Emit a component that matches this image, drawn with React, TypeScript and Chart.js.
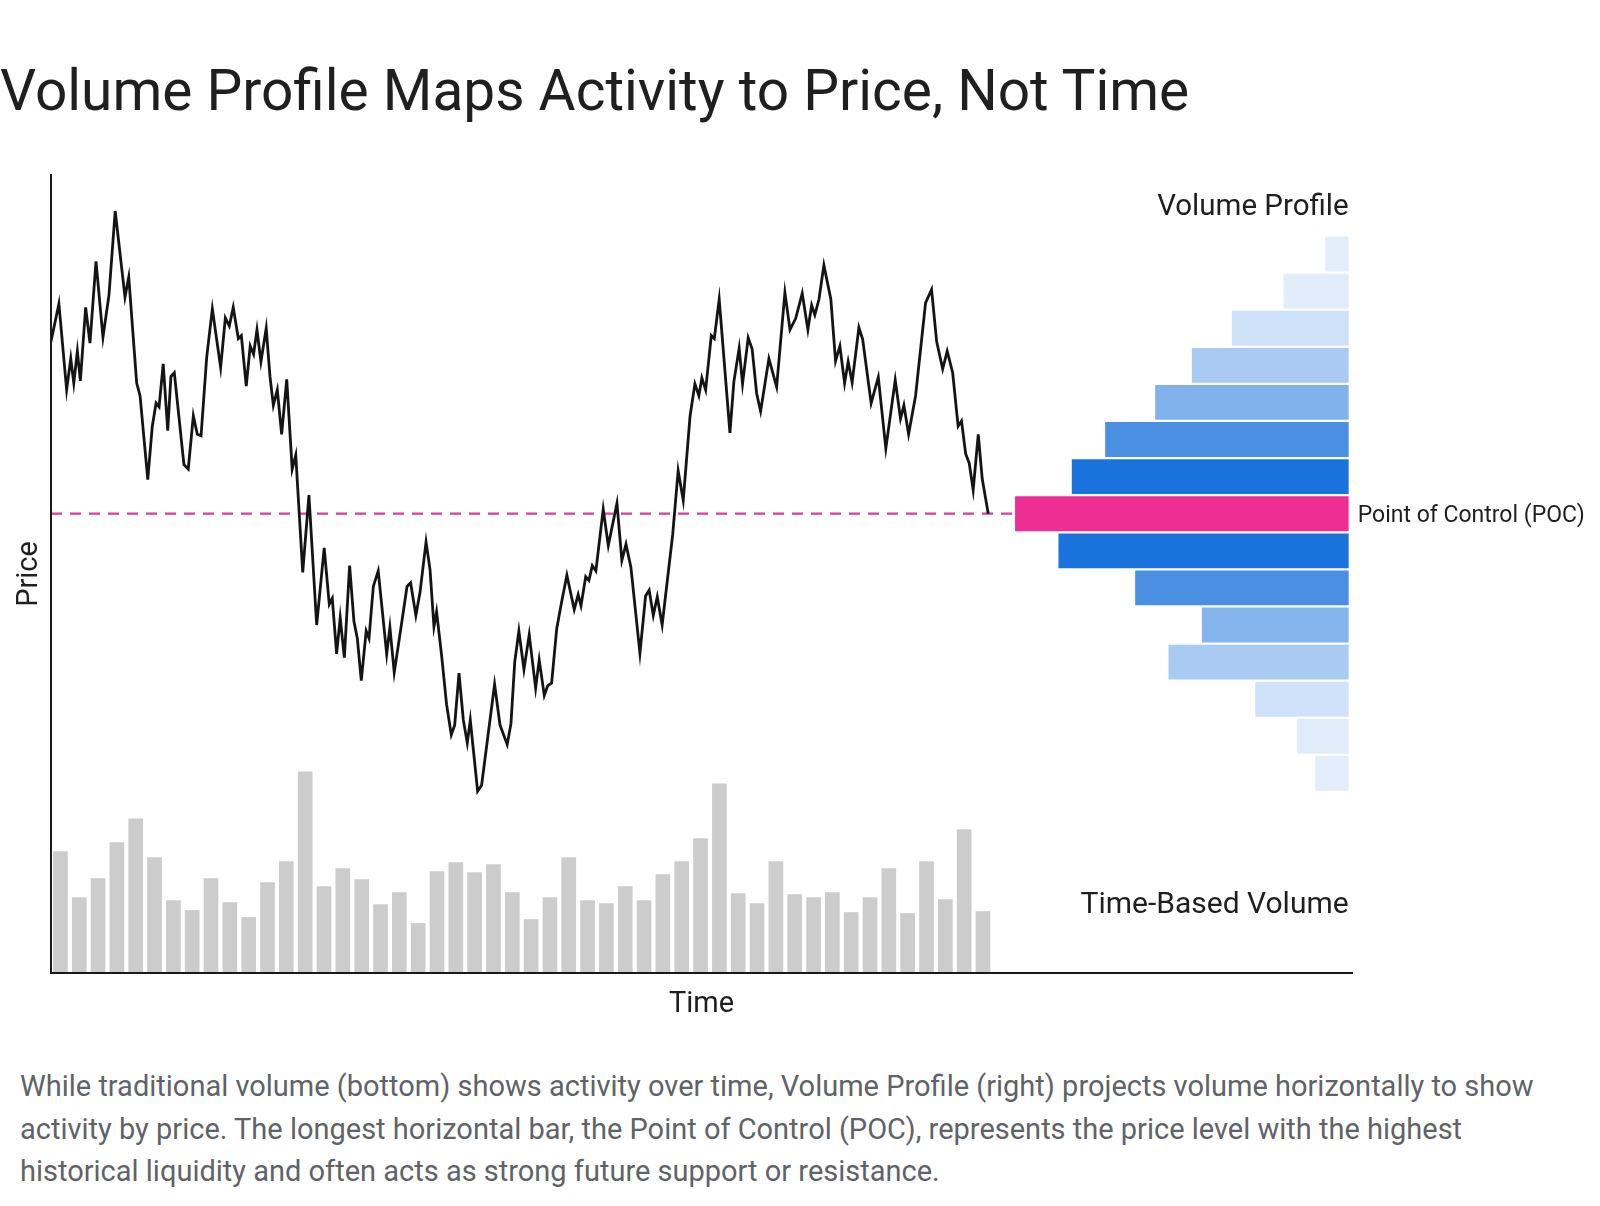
import React, { useEffect, useRef } from 'react';
import { Chart, registerables } from 'chart.js';

Chart.register(...registerables);

const FONT = 'Roboto, "Noto Sans", "DejaVu Sans", sans-serif';
const INK = '#1f1f1f';

// Price path: time (measured in volume periods) and price at each vertex
const priceTimes = [
  0, 0.42, 0.83, 1.05, 1.21, 1.4, 1.56, 1.84, 2.07, 2.39, 2.76, 3.08, 3.41, 3.93, 4.13, 4.55, 4.73, 5.14, 5.38, 5.58,
  5.74, 5.96, 6.2, 6.37, 6.55, 7.06, 7.29, 7.56, 7.77, 7.97, 8.27, 8.57, 9.01, 9.26, 9.47, 9.68, 9.95, 10.11, 10.37, 10.58,
  10.76, 10.94, 11.15, 11.43, 11.63, 11.81, 12.02, 12.25, 12.52,
  12.81, 13.0, 13.37, 13.7, 14.11, 14.51, 14.78, 14.94, 15.17, 15.36, 15.58, 15.86, 16.09, 16.27, 16.48, 16.74, 16.89, 17.12, 17.38, 17.83,
  18.0, 18.23, 18.62, 18.91, 19.1, 19.38, 19.6, 19.92, 20.13, 20.34, 20.48, 20.75, 21.01, 21.26, 21.44, 21.67, 21.9, 22.11, 22.27, 22.66,
  22.87, 23.56, 23.85, 24.23, 24.43, 24.63, 24.85, 25.12, 25.4,
  25.74, 25.93, 26.2, 26.38, 26.59, 26.86, 27.12, 27.4, 27.79, 28.0, 28.15, 28.4, 28.57, 28.75, 28.94, 29.33, 29.6, 30.06, 30.32, 30.54,
  30.8, 31.28, 31.58, 31.77, 31.99, 32.2, 32.46, 33.02, 33.31, 33.58, 33.94, 34.2, 34.41, 34.57, 34.77, 35.07, 35.23, 35.49, 36.06, 36.27,
  36.55, 36.73, 37.03, 37.24, 37.48, 37.69,
  38.13, 38.54, 38.98, 39.25, 39.55, 39.9, 40.2, 40.4, 40.57, 40.79, 41.05, 41.42, 41.67, 41.9, 42.15, 42.34, 42.55, 42.91, 43.11, 43.56,
  43.94, 44.34, 44.84, 45.12, 45.3, 45.55, 45.92, 46.45, 46.77, 47.04, 47.36, 47.6, 47.89, 48.18, 48.36, 48.58, 48.77, 48.98, 49.25, 49.46,
  49.78,
];
const priceValues = [
  173.2, 178.3, 166.7, 170.9, 167.6, 171.9, 167.9, 177.8, 173.0, 184.0, 173.8, 179.5, 190.8, 179.2, 181.9, 167.6, 165.9, 154.6, 161.8, 164.9,
  164.4, 170.2, 161.2, 168.5, 169.0, 156.6, 156.0, 163.2, 160.7, 160.5, 171.1, 177.6, 169.7, 176.4, 175.3, 177.8, 173.6, 174.0, 167.2, 172.6,
  171.5, 174.8, 170.5, 175.0, 168.5, 164.6, 166.7, 160.7, 168.1,
  156.0, 157.9, 142.1, 152.5, 135.0, 145.4, 137.8, 138.6, 131.1, 136.0, 130.6, 143.0, 135.5, 133.2, 127.5, 134.2, 133.2, 140.2, 142.3, 131.1,
  134.7, 128.6, 135.2, 140.2, 140.7, 136.3, 139.4, 146.2, 142.5, 134.8, 136.8, 130.8, 124.3, 120.2, 121.5, 128.5, 122.2, 119.1, 122.2, 112.6,
  113.4, 127.0, 121.5, 118.9, 121.7, 130.0, 134.2, 129.0, 133.7,
  126.5, 130.3, 125.5, 126.8, 127.2, 134.5, 138.1, 141.7, 137.1, 139.1, 137.6, 141.5, 141.0, 143.0, 142.3, 150.6, 145.7, 151.4, 143.7, 145.9,
  142.8, 131.2, 138.9, 139.7, 136.3, 138.8, 135.0, 147.2, 155.8, 151.8, 163.1, 167.5, 165.9, 168.3, 166.7, 174.0, 173.6, 178.9, 160.9, 167.8,
  172.3, 167.5, 173.7, 172.2, 166.2, 163.8,
  170.9, 167.1, 179.8, 174.8, 176.3, 179.7, 174.8, 178.1, 176.8, 178.9, 183.5, 178.9, 170.6, 172.6, 167.6, 170.5, 167.7, 175.1, 173.5, 164.9,
  168.4, 158.8, 168.0, 162.8, 164.6, 160.7, 165.9, 178.4, 180.2, 173.2, 169.5, 171.9, 169.0, 161.8, 162.5, 158.1, 156.8, 153.2, 160.7, 154.7,
  150.0,
];

// Time-based volume, one bar per period
const volumePerPeriod = [
  122, 76, 95, 131, 155, 116, 73, 63, 95, 71,
  56, 91, 112, 202, 87, 105, 94, 69, 81, 50,
  102, 111, 101, 109, 81, 54, 76, 116, 73, 70,
  87, 73, 99, 112, 135, 190, 80, 70, 112, 79,
  76, 81, 61, 76, 105, 60, 112, 74, 144, 62,
];

// Volume profile: centre of each price bin, volume traded in it, bin colour
const profileLevels = [185, 180, 175, 170, 165, 160, 155, 150, 145, 140, 135, 130, 125, 120, 115];
const profileVolume = [7, 19.5, 35, 47, 58, 73, 83, 100, 87, 64, 44, 54, 28, 15.5, 10];
const profileColors = [
  '#e3eefc', '#e1edfb', '#cde1f9', '#a9caf3', '#82b2eb', '#4b8fe2', '#1a73dd',
  '#ee2e93',
  '#1a73dd', '#4b8fe2', '#85b5ec', '#a9caf3', '#cfe2fa', '#e2edfc', '#e3eefc',
];

const pocPrice = 150;
const pocLineSpan = [0, 60];

const priceRange = { min: 88.1, max: 195.65 };
const timeRange = { min: 0, max: 69.1 };
const volumeRange = { min: 0, max: 800 };
const profileRange = { min: -1, max: 389 };

// canvas 'middle' sits a little above the optical centre of the glyphs
const MID_NUDGE = 3;

const labelPlugin = {
  id: 'profileLabels',
  afterDatasetsDraw(chart: any) {
    const { ctx, chartArea, scales } = chart;
    const right = scales.xProf.getPixelForValue(0);
    const binHalf = (profileLevels[0] - profileLevels[1]) / 2;
    const profileTop = scales.y.getPixelForValue(profileLevels[0] + binHalf);
    ctx.save();
    ctx.fillStyle = INK;
    ctx.textBaseline = 'middle';
    ctx.textAlign = 'right';
    ctx.font = `29.5px ${FONT}`;
    ctx.fillText('Volume Profile', right, profileTop - 31 + MID_NUDGE);
    ctx.font = `30px ${FONT}`;
    ctx.fillText('Time-Based Volume', right, chartArea.bottom - 71 + MID_NUDGE);
    ctx.textAlign = 'left';
    ctx.font = `23px ${FONT}`;
    ctx.fillText('Point of Control (POC)', right + 9, scales.y.getPixelForValue(pocPrice) + MID_NUDGE);
    ctx.restore();
  },
};

function VolumeProfileChart() {
  const ref = useRef<HTMLCanvasElement>(null);

  useEffect(() => {
    const canvas = ref.current;
    if (!canvas) return;
    let chart: Chart | null = null;
    let cancelled = false;

    const build = () => {
      if (cancelled) return;
      chart = new Chart(canvas, {
        type: 'bar',
        data: {
          datasets: [
            {
              type: 'line',
              label: 'Price',
              data: priceTimes.map((t, i) => ({ x: t, y: priceValues[i] })),
              xAxisID: 'x',
              yAxisID: 'y',
              borderColor: '#141414',
              borderWidth: 2.8,
              pointRadius: 0,
              tension: 0,
              fill: false,
              order: 1,
            },
            {
              type: 'line',
              label: 'Point of Control',
              data: pocLineSpan.map((t) => ({ x: t, y: pocPrice })),
              xAxisID: 'x',
              yAxisID: 'y',
              borderColor: '#d63d9e',
              borderWidth: 2.2,
              borderDash: [11, 8],
              pointRadius: 0,
              fill: false,
              order: 3,
            },
            {
              type: 'bar',
              label: 'Time-Based Volume',
              data: volumePerPeriod.map((v, i) => ({ x: i + 0.5, y: v })),
              xAxisID: 'x',
              yAxisID: 'yVol',
              backgroundColor: '#cccccc',
              grouped: false,
              barPercentage: 0.78,
              categoryPercentage: 1,
              order: 4,
            },
            {
              type: 'bar',
              label: 'Volume Profile',
              indexAxis: 'y',
              data: profileLevels.map((p, i) => ({ x: profileVolume[i], y: p })),
              xAxisID: 'xProf',
              yAxisID: 'y',
              backgroundColor: profileColors,
              grouped: false,
              barPercentage: 0.94,
              categoryPercentage: 1,
              order: 2,
            },
          ] as any,
        },
        options: {
          animation: false,
          responsive: false,
          maintainAspectRatio: false,
          layout: { padding: { top: 25, right: 248, bottom: 8, left: 12 } },
          plugins: {
            legend: { display: false },
            tooltip: { enabled: false },
            title: { display: false },
          },
          scales: {
            x: {
              type: 'linear',
              axis: 'x',
              position: 'bottom',
              min: timeRange.min,
              max: timeRange.max,
              offset: false,
              grid: { display: false, offset: false },
              border: { display: true, color: '#1a1a1a', width: 2, z: 1 },
              ticks: { display: false, count: 2 },
              title: {
                display: true,
                text: 'Time',
                color: INK,
                font: { family: FONT, size: 29 },
                padding: 0,
              },
              afterFit: (scale: any) => {
                scale.height = 49;
              },
            },
            y: {
              type: 'linear',
              axis: 'y',
              position: 'left',
              min: priceRange.min,
              max: priceRange.max,
              offset: false,
              grid: { display: false },
              border: { display: true, color: '#1a1a1a', width: 2, z: 1 },
              ticks: { display: false, count: 2 },
              title: {
                display: true,
                text: 'Price',
                color: INK,
                font: { family: FONT, size: 29 },
                padding: 0,
              },
              afterFit: (scale: any) => {
                scale.width = 39;
              },
            },
            yVol: {
              type: 'linear',
              axis: 'y',
              display: false,
              min: volumeRange.min,
              max: volumeRange.max,
            },
            xProf: {
              type: 'linear',
              axis: 'x',
              display: false,
              reverse: true,
              offset: false,
              min: profileRange.min,
              max: profileRange.max,
            },
          } as any,
        },
        plugins: [labelPlugin],
      });
    };

    document.fonts.load(`29px Roboto`).then(build, build);

    return () => {
      cancelled = true;
      if (chart) chart.destroy();
    };
  }, []);

  return <canvas ref={ref} width={1600} height={880} style={{ display: 'block', width: 1600, height: 880 }} />;
}

export default function App() {
  return (
    <div
      style={{
        position: 'absolute',
        left: 0,
        top: 0,
        width: 1600,
        height: 1206,
        overflow: 'hidden',
        background: '#ffffff',
        fontFamily: FONT,
      }}
    >
      <div
        style={{
          position: 'absolute',
          left: 0,
          top: 58,
          fontSize: 56.8,
          lineHeight: '66px',
          color: INK,
          whiteSpace: 'nowrap',
        }}
      >
        Volume Profile Maps Activity to Price, Not Time
      </div>
      <div style={{ position: 'absolute', left: 0, top: 150 }}>
        <VolumeProfileChart />
      </div>
      <div
        style={{
          position: 'absolute',
          left: 20,
          top: 1065,
          fontSize: 29,
          lineHeight: '42.5px',
          color: '#5f6368',
          whiteSpace: 'nowrap',
        }}
      >
        While traditional volume (bottom) shows activity over time, Volume Profile (right) projects volume horizontally to show
        <br />
        activity by price. The longest horizontal bar, the Point of Control (POC), represents the price level with the highest
        <br />
        historical liquidity and often acts as strong future support or resistance.
      </div>
    </div>
  );
}
